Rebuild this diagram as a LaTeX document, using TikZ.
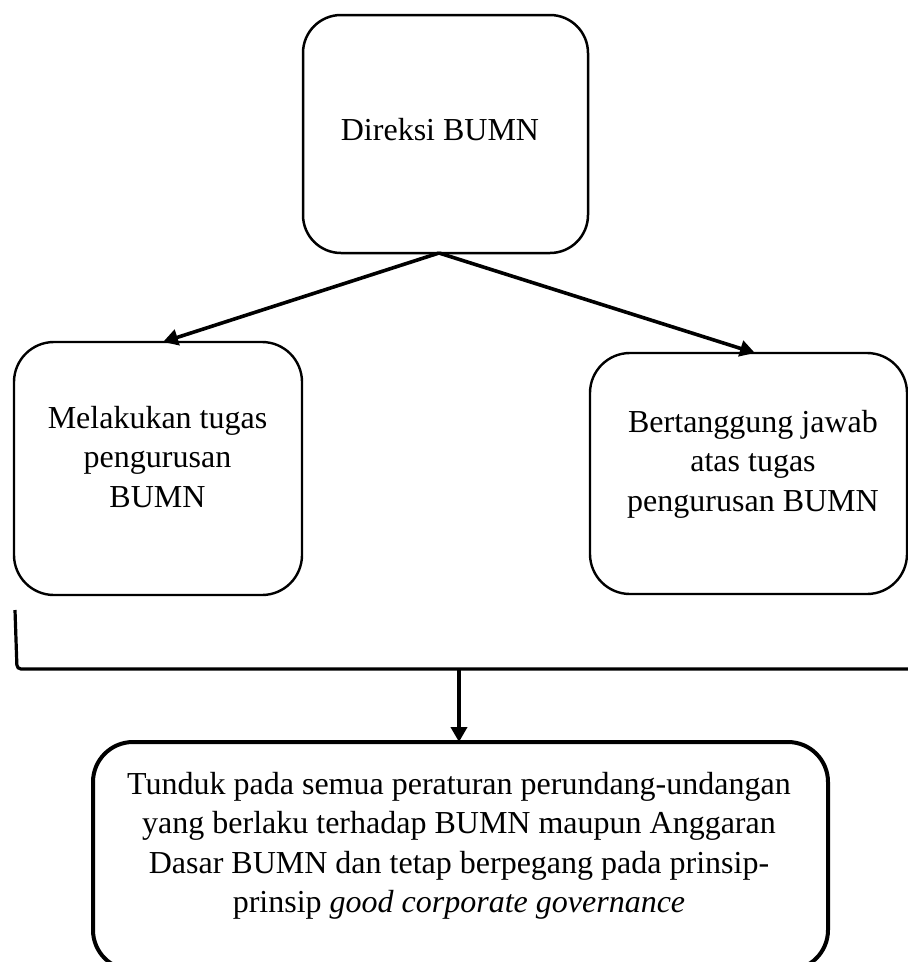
\documentclass[tikz,border=0pt]{standalone}
\usepackage{fontspec}
\setmainfont{Liberation Serif}
\usetikzlibrary{arrows.meta}
\begin{document}
\begin{tikzpicture}[x=1pt,y=-1pt,
  box/.style={draw=black,rounded corners=#1,inner sep=0pt,outer sep=0pt},
  box/.default=40pt,
  txt/.style={align=center,inner sep=0pt,anchor=north,
    font=\fontsize{32}{39.3}\selectfont},
  arr/.style={-{Triangle[length=15pt,width=16pt]},line width=3.6pt},
  brk/.style={line width=3.2pt,rounded corners=4pt}]
\useasboundingbox (0,0) rectangle (908,962);
\clip (0,0) rectangle (908,962);

% boxes
\node[box=38pt,line width=2.5pt,minimum width=285pt,minimum height=238pt]
  (dir) at (445.5,134) {};
\node[box,line width=2.4pt,minimum width=288pt,minimum height=253pt]
  (lt) at (158,468.5) {};
\node[box,line width=2.4pt,minimum width=317pt,minimum height=241pt]
  (rt) at (748.5,473.5) {};
\node[box,line width=4pt,minimum width=735pt,minimum height=228pt]
  (bot) at (460.5,856) {};

% texts
\node[txt] (tdir) at (440,118) {Direksi BUMN};
\node[txt] (tlt) at (157.5,406) {Melakukan tugas\\pengurusan\\BUMN};
\node[txt] (trt) at (753,410) {Bertanggung jawab\\atas tugas\\pengurusan BUMN};
\node[txt] (tbot) at (459,772)
  {Tunduk pada semua peraturan perundang-undangan\\
   yang berlaku terhadap BUMN maupun Anggaran\\
   Dasar BUMN dan tetap berpegang pada prinsip-\\
   prinsip \textit{good corporate governance}};

% branching arrows from the top box
\coordinate (src) at (439,253);
\draw[arr] (src) -- ([xshift=5pt]lt.north);
\draw[arr] (src) -- ([xshift=6.5pt]rt.north);

% bracket joining the two boxes
\coordinate (b1) at (15,610);
\coordinate (b2) at (17,669);
\coordinate (b3) at (910,669);
\coordinate (bm) at (459,669);
\draw[brk] (b1) -- (b2) -- (b3);
\draw[arr,line width=4pt] (bm) -- (bot.north -| bm);
\end{tikzpicture}
\end{document}
